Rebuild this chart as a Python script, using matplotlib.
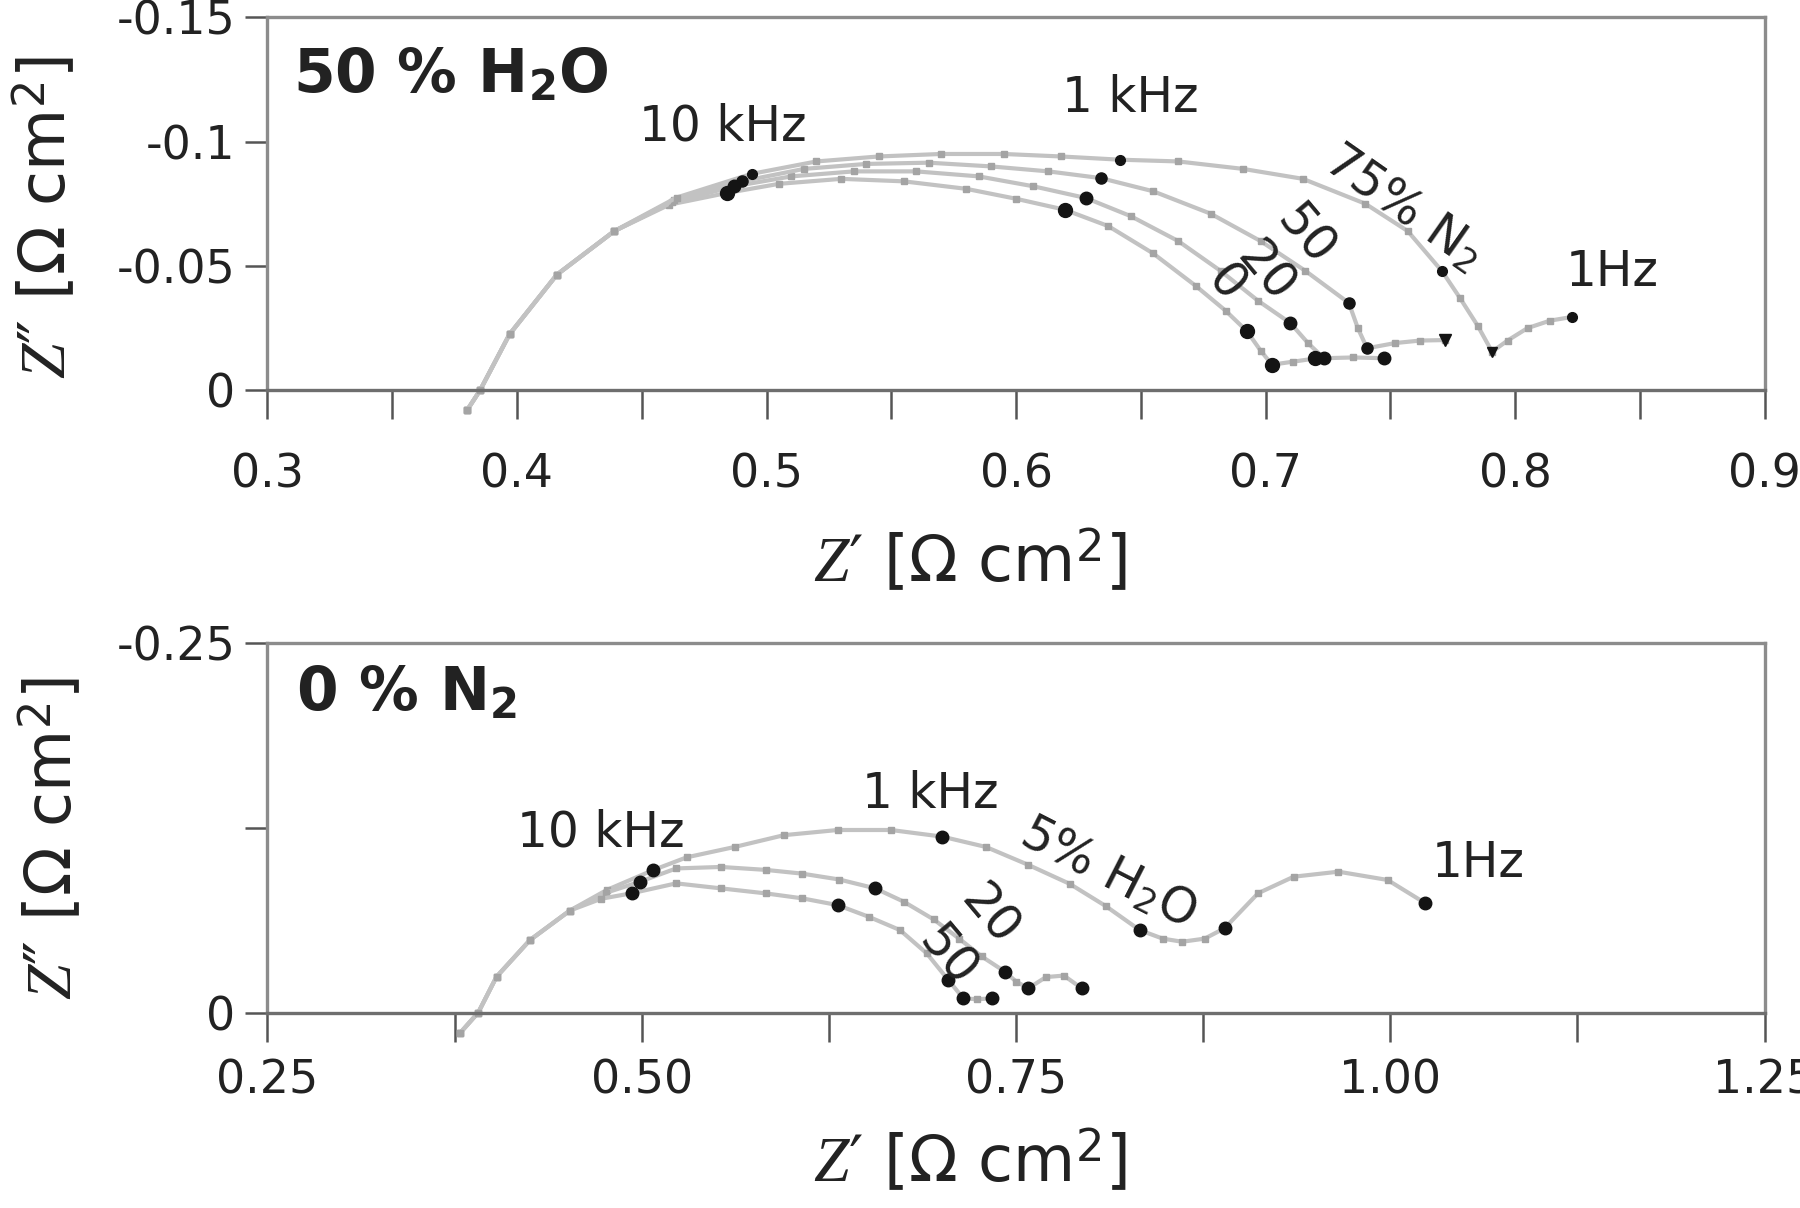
"""
Nyquist plots: 50 % H2O with varying N2 (top), 0 % N2 with varying H2O (bottom).
Saves out.png (1800 x 1208 px).
"""

import numpy as np
import matplotlib
matplotlib.use("Agg")
import matplotlib.pyplot as plt
from matplotlib.ticker import MultipleLocator, FixedLocator, FormatStrFormatter

# ── Style ───────────────────────────────────────────────────────────────
plt.rcParams.update({
    "font.family":        "DejaVu Sans",
    "mathtext.fontset":   "custom",
    "mathtext.rm":        "DejaVu Sans",
    "mathtext.it":        "Liberation Serif:italic",
    "mathtext.bf":        "DejaVu Sans:bold",
    "axes.unicode_minus": False,
})

LINE_C  = "#c2c2c2"   # light grey trace
PT_C    = "#a4a4a4"   # grey measurement points
DEC_C   = "#141414"   # black decade markers
SPINE_C = "#8c8c8c"
TEXT_C  = "#222222"

# ── Data: top panel (50 % H2O, N2 varied) ───────────────────────────────
top_n2_0_re = [0.380, 0.3852, 0.397, 0.416, 0.439, 0.461, 0.484, 0.505, 0.530,
               0.555, 0.580, 0.600, 0.6195, 0.637, 0.655, 0.672, 0.684, 0.6926,
               0.698, 0.7026, 0.711, 0.720]
top_n2_0_im = [0.008, 0.0, -0.0225, -0.0465, -0.064, -0.0746, -0.0793, -0.083, -0.085,
               -0.084, -0.081, -0.077, -0.0726, -0.066, -0.055, -0.042, -0.032, -0.0237,
               -0.016, -0.0103, -0.0115, -0.0128]
top_n2_0_dec = [6, 12, 17, 19, 21]

top_n2_20_re = [0.380, 0.3852, 0.397, 0.416, 0.439, 0.462, 0.487, 0.510, 0.535,
                0.560, 0.585, 0.607, 0.628, 0.646, 0.665, 0.682, 0.697, 0.710,
                0.717, 0.7234, 0.735, 0.7474]
top_n2_20_im = [0.008, 0.0, -0.0225, -0.0465, -0.064, -0.0755, -0.082, -0.086, -0.088,
                -0.088, -0.086, -0.082, -0.0773, -0.070, -0.060, -0.048, -0.036, -0.027,
                -0.019, -0.0129, -0.0132, -0.0129]
top_n2_20_dec = [6, 12, 17, 19, 21]

top_n2_50_re = [0.380, 0.3852, 0.397, 0.416, 0.439, 0.463, 0.490, 0.515, 0.540,
                0.565, 0.590, 0.613, 0.634, 0.655, 0.678, 0.698, 0.716, 0.7334,
                0.737, 0.7407, 0.752, 0.762, 0.7721]
top_n2_50_im = [0.008, 0.0, -0.0225, -0.0465, -0.064, -0.0765, -0.084, -0.089, -0.091,
                -0.0915, -0.090, -0.088, -0.0853, -0.080, -0.071, -0.060, -0.048, -0.0351,
                -0.025, -0.0169, -0.019, -0.020, -0.0202]
top_n2_50_dec = [6, 12, 17, 19, 22]

top_n2_75_re = [0.380, 0.3852, 0.397, 0.416, 0.439, 0.464, 0.494, 0.520, 0.545,
                0.570, 0.595, 0.618, 0.6417, 0.665, 0.691, 0.715, 0.740, 0.757,
                0.7708, 0.778, 0.785, 0.7908, 0.797, 0.805, 0.814, 0.8229]
top_n2_75_im = [0.008, 0.0, -0.0225, -0.0465, -0.064, -0.0775, -0.087, -0.092, -0.094,
                -0.095, -0.095, -0.094, -0.0927, -0.092, -0.089, -0.085, -0.075, -0.064,
                -0.0478, -0.037, -0.026, -0.0155, -0.020, -0.025, -0.028, -0.0295]
top_n2_75_dec = [6, 12, 18, 21, 25]

# ── Data: bottom panel (0 % N2, H2O varied) ─────────────────────────────
bot_h2o_5_re = [0.3786, 0.3908, 0.403, 0.4253, 0.452, 0.4766, 0.5077, 0.530, 0.562,
                0.595, 0.6308, 0.6665, 0.7008, 0.730, 0.758, 0.786, 0.810, 0.8326,
                0.848, 0.861, 0.876, 0.8893, 0.9117, 0.9355, 0.9654, 0.9982, 1.0235]
bot_h2o_5_im = [0.0139, 0.0, -0.0242, -0.049, -0.069, -0.0829, -0.0964, -0.105, -0.112,
                -0.120, -0.1235, -0.1235, -0.119, -0.112, -0.100, -0.087, -0.072, -0.0558,
                -0.050, -0.0479, -0.050, -0.057, -0.0807, -0.0919, -0.0953, -0.0897, -0.0739]
bot_h2o_5_dec = [6, 12, 17, 21, 26]

bot_h2o_20_re = [0.3786, 0.3908, 0.403, 0.4253, 0.452, 0.476, 0.4988, 0.523, 0.553,
                 0.583, 0.607, 0.632, 0.656, 0.675, 0.695, 0.712, 0.727, 0.7427,
                 0.750, 0.7583, 0.770, 0.782, 0.7939]
bot_h2o_20_im = [0.0139, 0.0, -0.0242, -0.049, -0.069, -0.081, -0.0885, -0.0975, -0.0985,
                 -0.0965, -0.094, -0.090, -0.084, -0.075, -0.063, -0.050, -0.038, -0.0276,
                 -0.021, -0.0164, -0.024, -0.025, -0.0164]
bot_h2o_20_dec = [6, 12, 17, 19, 22]

bot_h2o_50_re = [0.3786, 0.3908, 0.403, 0.4253, 0.452, 0.473, 0.4933, 0.523, 0.553,
                 0.583, 0.607, 0.6308, 0.6516, 0.6725, 0.6904, 0.7048, 0.7148, 0.724,
                 0.7338]
bot_h2o_50_im = [0.0139, 0.0, -0.0242, -0.049, -0.069, -0.077, -0.0807, -0.0874, -0.084,
                 -0.0806, -0.0773, -0.0727, -0.0648, -0.0558, -0.040, -0.022, -0.0096, -0.009,
                 -0.0096]
bot_h2o_50_dec = [6, 11, 15, 16, 18]

# (re, im, decade indices, decade marker shapes, marker size)
top_series = [
    (top_n2_0_re,  top_n2_0_im,  top_n2_0_dec,  "ooooo", 10),
    (top_n2_20_re, top_n2_20_im, top_n2_20_dec, "ooooo", 9),
    (top_n2_50_re, top_n2_50_im, top_n2_50_dec, "oooov", 8),
    (top_n2_75_re, top_n2_75_im, top_n2_75_dec, "ooovo", 7),
]
bot_series = [
    (bot_h2o_5_re,  bot_h2o_5_im,  bot_h2o_5_dec,  "ooooo", 9),
    (bot_h2o_20_re, bot_h2o_20_im, bot_h2o_20_dec, "ooooo", 9),
    (bot_h2o_50_re, bot_h2o_50_im, bot_h2o_50_dec, "ooooo", 9),
]

top_yticks = [-0.15, -0.1, -0.05, 0]
top_ylabels = ["-0.15", "-0.1", "-0.05", "0"]
bot_yticks = [-0.25, -0.125, 0]
bot_ylabels = ["-0.25", "", "0"]

XLABEL = r"$Z$′ [Ω cm$^2$]"
YLABEL = r"$Z$″ [Ω cm$^2$]"

ANNOT_FS = 35
TITLE_FS = 43
LABEL_FS = 46
TICK_FS = 33


def draw_series(ax, re, im, dec, markers, ms):
    re = np.asarray(re)
    im = np.asarray(im)
    ax.plot(re, im, color=LINE_C, lw=3.0, marker="s", ms=3.8,
            mfc=PT_C, mec=PT_C, clip_on=False, zorder=2)
    for i, mk in zip(dec, markers):
        ax.plot(re[i], im[i], ls="none", marker=mk, ms=ms,
                mfc=DEC_C, mec=DEC_C, clip_on=False, zorder=3)


def style_axes(ax, xlim, ylim, xmaj, xmin, yticks, ylabels, xfmt, xpad):
    ax.set_xlim(*xlim)
    ax.set_ylim(*ylim)
    ax.xaxis.set_major_locator(MultipleLocator(xmaj))
    ax.xaxis.set_minor_locator(MultipleLocator(xmin))
    ax.xaxis.set_major_formatter(FormatStrFormatter(xfmt))
    ax.yaxis.set_major_locator(FixedLocator(yticks))
    ax.set_yticklabels(ylabels)
    ax.tick_params(axis="x", which="both", direction="out", length=21, width=1.8,
                   color="#555555", labelsize=TICK_FS, labelcolor=TEXT_C, pad=xpad)
    ax.tick_params(axis="y", which="both", direction="out", length=16, width=1.8,
                   color="#555555", labelsize=TICK_FS, labelcolor=TEXT_C, pad=7)
    ax.tick_params(axis="x", which="minor", labelbottom=False)
    for s in ax.spines.values():
        s.set_color(SPINE_C)
        s.set_linewidth(2.4)
    ax.spines["bottom"].set_color("#6e6e6e")
    ax.set_xlabel(XLABEL, fontsize=LABEL_FS, color=TEXT_C)
    ax.set_ylabel(YLABEL, fontsize=LABEL_FS, color=TEXT_C)


def rot_text(ax, x, y, s, angle):
    ax.text(x, y, s, fontsize=ANNOT_FS, ha="center", va="center",
            rotation=angle, rotation_mode="anchor", color=TEXT_C)


fig = plt.figure(figsize=(18, 12.08), dpi=100)

# ── Top panel ───────────────────────────────────────────────────────────
ax1 = fig.add_axes([0.1486, 0.6769, 0.8317, 0.3089])
for re, im, dec, mk, ms in top_series:
    draw_series(ax1, re, im, dec, mk, ms)
style_axes(ax1, (0.3, 0.9), (0, -0.15), 0.1, 0.05, top_yticks, top_ylabels, "%.1f", 24)
ax1.xaxis.set_label_coords(0.469, -0.46)
ax1.xaxis.label.set_va("center")
ax1.yaxis.set_label_coords(-0.148, 0.462)
ax1.yaxis.label.set_va("center")

ax1.text(0.017, 0.84, r"50 % H$_\mathbf{2}$O", transform=ax1.transAxes,
         fontsize=TITLE_FS, fontweight="bold", color=TEXT_C, ha="left", va="center")
ax1.text(0.4826, -0.106, "10 kHz", fontsize=ANNOT_FS, ha="center", va="center", color=TEXT_C)
ax1.text(0.646, -0.1176, "1 kHz", fontsize=ANNOT_FS, ha="center", va="center", color=TEXT_C)
rot_text(ax1, 0.755, -0.0734, r"75% N$_2$", -35)
rot_text(ax1, 0.716, -0.0624, "50", -50)
rot_text(ax1, 0.700, -0.0475, "20", -50)
rot_text(ax1, 0.684, -0.043, "0", -50)
ax1.text(0.839, -0.0475, "1Hz", fontsize=ANNOT_FS, ha="center", va="center", color=TEXT_C)

# ── Bottom panel ────────────────────────────────────────────────────────
ax2 = fig.add_axes([0.1486, 0.1618, 0.8317, 0.3059])
for re, im, dec, mk, ms in bot_series:
    draw_series(ax2, re, im, dec, mk, ms)
style_axes(ax2, (0.25, 1.25), (0, -0.25), 0.25, 0.125, bot_yticks, bot_ylabels, "%.2f", 12)
ax2.xaxis.set_label_coords(0.469, -0.405)
ax2.xaxis.label.set_va("center")
ax2.yaxis.set_label_coords(-0.144, 0.472)
ax2.yaxis.label.set_va("center")

ax2.text(0.019, 0.861, r"0 % N$_\mathbf{2}$", transform=ax2.transAxes,
         fontsize=TITLE_FS, fontweight="bold", color=TEXT_C, ha="left", va="center")
ax2.text(0.4724, -0.1219, "10 kHz", fontsize=ANNOT_FS, ha="center", va="center", color=TEXT_C)
ax2.text(0.6925, -0.1476, "1 kHz", fontsize=ANNOT_FS, ha="center", va="center", color=TEXT_C)
rot_text(ax2, 0.8113, -0.0947, r"5% H$_2$O", -27)
rot_text(ax2, 0.7324, -0.066, "20", -50)
rot_text(ax2, 0.7039, -0.038, "50", -50)
ax2.text(1.059, -0.101, "1Hz", fontsize=ANNOT_FS, ha="center", va="center", color=TEXT_C)

fig.savefig("out.png", dpi=100)
plt.close(fig)
